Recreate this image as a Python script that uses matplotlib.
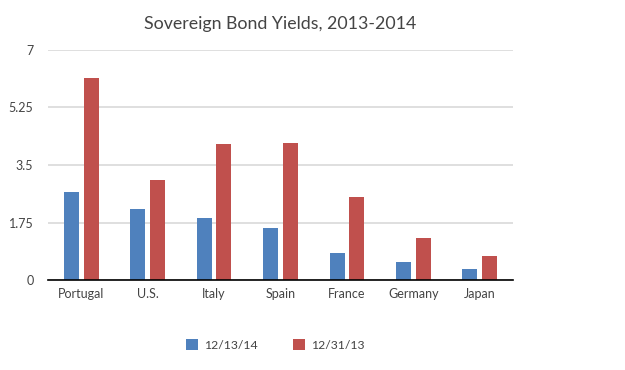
import matplotlib
matplotlib.use("Agg")
import matplotlib.pyplot as plt
import numpy as np

categories = ["Portugal", "U.S.", "Italy", "Spain", "France", "Germany", "Japan"]
series_names = ["12/13/14", "12/31/13"]
yields_2014 = [2.69, 2.17, 1.89, 1.59, 0.83, 0.54, 0.33]
yields_2013 = [6.16, 3.03, 4.13, 4.17, 2.54, 1.29, 0.74]
yticks = [0, 1.75, 3.5, 5.25, 7]
ytick_labels = ["0", "1.75", "3.5", "5.25", "7"]

plt.rcParams['font.family'] = ['Lato', 'DejaVu Sans']

fig = plt.figure(figsize=(6.25, 3.7), dpi=100)
ax = fig.add_axes([0.0768, 0.2432, 0.744, 0.6217])

x = np.arange(len(categories))
w = 0.226
off = 0.148
b1 = ax.bar(x - off, yields_2014, w, color="#4F81BD", label=series_names[0], zorder=3)
b2 = ax.bar(x + off, yields_2013, w, color="#C0504D", label=series_names[1], zorder=3)

ax.set_xlim(-0.5, len(categories) - 0.5)
ax.set_ylim(0, 7)
ax.set_yticks(yticks)
ax.set_yticklabels(ytick_labels)
ax.set_xticks(x)
ax.set_xticklabels(categories)
ax.grid(axis="y", color="#D9D9D9", linewidth=1.2, zorder=0)
for s in ["top", "right", "left"]:
    ax.spines[s].set_visible(False)
ax.spines["bottom"].set_color("black")
ax.spines["bottom"].set_linewidth(1.2)
ax.spines["bottom"].set_zorder(4)
ax.tick_params(axis="both", length=0, labelsize=9, colors="#444444")
ax.tick_params(axis="y", pad=10.5)
ax.tick_params(axis="x", pad=6)

fig.suptitle("Sovereign Bond Yields, 2013-2014", x=0.448, y=0.957, fontsize=12.8, color="#444444")

fig.legend(handles=[b1, b2], labels=series_names, loc="center", bbox_to_anchor=(0.441, 0.067),
           ncol=2, frameon=False, fontsize=8.8, handlelength=0.98, handleheight=0.98,
           columnspacing=2.9, handletextpad=0.5, labelcolor="#444444")

fig.savefig("out.png", dpi=100, facecolor="white")
